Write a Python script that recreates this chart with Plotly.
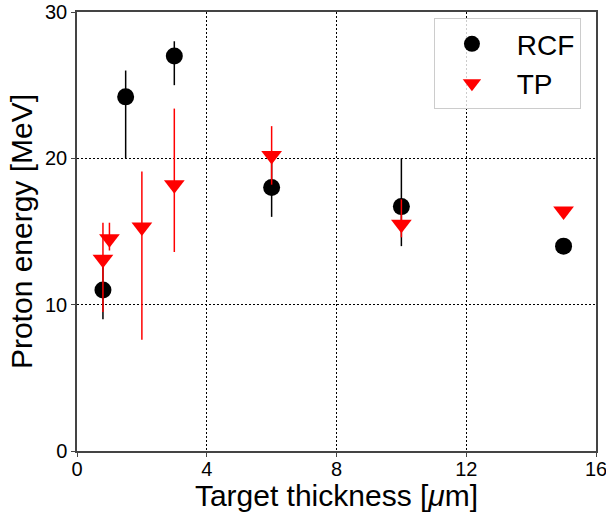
import plotly.graph_objects as go

# RCF data
rcf_x = [0.8, 1.5, 3.0, 6.0, 10.0, 15.0]
rcf_y = [11.0, 24.2, 27.0, 18.0, 16.7, 14.0]
rcf_err_plus = [2.0, 1.8, 1.0, 2.0, 3.3, 0.0]
rcf_err_minus = [2.0, 4.2, 2.0, 2.0, 2.7, 0.0]

# TP data
tp_x = [0.8, 1.0, 2.0, 3.0, 6.0, 10.0, 15.0]
tp_y = [13.1, 14.5, 15.3, 18.2, 20.2, 15.5, 16.4]
tp_err_plus = [2.5, 1.1, 3.8, 5.2, 2.0, 1.7, 0.0]
tp_err_minus = [3.6, 0.8, 7.7, 4.6, 2.0, 0.9, 0.0]

x_ticks = [0, 4, 8, 12, 16]
y_ticks = [0, 10, 20, 30]

FONT = "Liberation Sans, Arial, sans-serif"

fig = go.Figure()
fig.add_trace(go.Scatter(
    x=rcf_x, y=rcf_y, mode="markers", name="\u00a0RCF",
    marker=dict(symbol="circle", size=17, color="black"),
    error_y=dict(type="data", symmetric=False, array=rcf_err_plus,
                 arrayminus=rcf_err_minus, color="black", thickness=1.5, width=0),
))
fig.add_trace(go.Scatter(
    x=tp_x, y=tp_y, mode="markers", name="\u00a0TP",
    marker=dict(symbol="triangle-down", size=18, color="red"),
    error_y=dict(type="data", symmetric=False, array=tp_err_plus,
                 arrayminus=tp_err_minus, color="red", thickness=1.5, width=0),
))

axis_common = dict(
    showline=True, linecolor="#444", linewidth=1.5, mirror=True,
    ticks="outside", ticklen=4, tickwidth=1.2, tickcolor="#444",
    showgrid=True, gridcolor="black", gridwidth=0.6, griddash="2px,2px",
    zeroline=False, automargin=False, ticklabeloverflow="allow",
    tickfont=dict(size=20, color="black", family=FONT),
)

fig.update_xaxes(range=[0, 16], tickvals=x_ticks, ticklabelstandoff=-5,
                 title=dict(text="Target thickness [<i>μ</i>m]",
                            font=dict(size=30, color="black", family=FONT), standoff=0),
                 **axis_common)
fig.update_yaxes(range=[0, 30], tickvals=y_ticks,
                 title=dict(text="Proton energy [MeV]",
                            font=dict(size=30, color="black", family=FONT), standoff=4),
                 **axis_common)

fig.update_layout(
    width=606, height=512,
    margin=dict(l=77, r=10, t=12, b=61, autoexpand=False),
    plot_bgcolor="white", paper_bgcolor="white",
    font=dict(family=FONT, color="black"),
    showlegend=True,
    legend=dict(x=0.971, y=0.986, xanchor="right", yanchor="top",
                bgcolor="rgba(255,255,255,0.8)", bordercolor="#cccccc", borderwidth=1,
                font=dict(size=28, family=FONT, color="black"),
                itemwidth=64, tracegroupgap=0),
)

fig.write_html("out.html", config={"displayModeBar": False},
               post_script="document.body.style.margin='0';")
